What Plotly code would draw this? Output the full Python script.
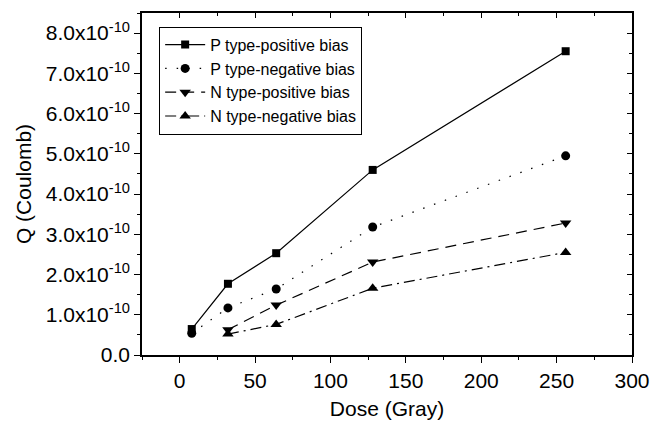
import plotly.graph_objects as go

dose_p = [8, 32, 64, 128, 256]
dose_n = [32, 64, 128, 256]
p_pos = [0.645e-10, 1.77e-10, 2.53e-10, 4.60e-10, 7.55e-10]
p_neg = [0.54e-10, 1.17e-10, 1.64e-10, 3.18e-10, 4.95e-10]
n_pos = [0.63e-10, 1.24e-10, 2.31e-10, 3.28e-10]
n_neg = [0.52e-10, 0.76e-10, 1.66e-10, 2.55e-10]

y_tickvals = [i * 1e-10 for i in range(9)]
y_ticktext = ["0.0"] + [f"{i}.0x10<sup>-10</sup>" for i in range(1, 9)]
x_tickvals = [0, 50, 100, 150, 200, 250, 300]

font = dict(family="Liberation Sans, Arial, sans-serif", color="black")

fig = go.Figure()
series = [
    ("P type-positive bias", dose_p, p_pos, "solid", "square", 8),
    ("P type-negative bias", dose_p, p_neg, "1.5px,10px", "circle", 9),
    ("N type-positive bias", dose_n, n_pos, "11px,7px", "triangle-down", 10),
    ("N type-negative bias", dose_n, n_neg, "11px,5px,2px,5px", "triangle-up", 10),
]
for name, xs, ys, dash, sym, sz in series:
    fig.add_trace(go.Scatter(
        x=xs, y=ys, name=name, mode="lines+markers",
        line=dict(color="black", width=1.2, dash=dash),
        marker=dict(symbol=sym, size=sz, color="black"),
    ))

# invisible trace to activate mirror axes with inside ticks
fig.add_trace(go.Scatter(x=[0], y=[0], xaxis="x2", yaxis="y2", mode="markers",
                         marker=dict(opacity=0), showlegend=False, hoverinfo="skip"))

XR = [-25, 300]
YR = [0, 8.5e-10]

fig.update_layout(
    width=652, height=424,
    margin=dict(l=142, r=20, t=13, b=69, autoexpand=False),
    paper_bgcolor="white", plot_bgcolor="white",
    font=dict(size=21, **font),
    showlegend=True,
    legend=dict(x=0.035, y=0.96, xanchor="left", yanchor="top",
                bordercolor="black", borderwidth=1, bgcolor="white",
                font=dict(size=16, **font), tracegroupgap=0,
                itemwidth=40),
    xaxis=dict(range=XR, tickvals=x_tickvals, ticks="outside", ticklen=6,
               tickwidth=1, tickcolor="black", showline=True, linecolor="black",
               linewidth=1.5, showgrid=False, zeroline=False, automargin=False,
               minor=dict(dtick=25, tick0=0, ticks="outside", ticklen=3, tickcolor="black"),
               title=dict(text="Dose (Gray)", standoff=10, font=dict(size=21, **font)),
               tickfont=dict(size=21, **font)),
    yaxis=dict(range=YR, tickvals=y_tickvals, ticktext=y_ticktext, ticks="outside",
               ticklen=6, tickwidth=1, tickcolor="black", showline=True,
               linecolor="black", linewidth=1.5, showgrid=False, zeroline=False,
               automargin=False,
               minor=dict(dtick=0.5e-10, tick0=0, ticks="outside", ticklen=3, tickcolor="black"),
               title=dict(text="Q (Coulomb)", standoff=8, font=dict(size=21, **font)),
               tickfont=dict(size=21, **font)),
    xaxis2=dict(range=XR, overlaying="x", side="top", tickvals=x_tickvals,
                showticklabels=False, ticks="inside", ticklen=5, tickcolor="black",
                showline=True, linecolor="black", linewidth=1.5, showgrid=False,
                zeroline=False, automargin=False,
                minor=dict(dtick=25, tick0=0, ticks="inside", ticklen=3, tickcolor="black")),
    yaxis2=dict(range=YR, overlaying="y", side="right", tickvals=y_tickvals,
                showticklabels=False, ticks="inside", ticklen=5, tickcolor="black",
                showline=True, linecolor="black", linewidth=1.5, showgrid=False,
                zeroline=False, automargin=False,
                minor=dict(dtick=0.5e-10, tick0=0, ticks="inside", ticklen=3, tickcolor="black")),
)

fig.write_html("out.html", config={"displayModeBar": False},
               post_script="document.body.style.margin='0';document.body.style.padding='0';")
